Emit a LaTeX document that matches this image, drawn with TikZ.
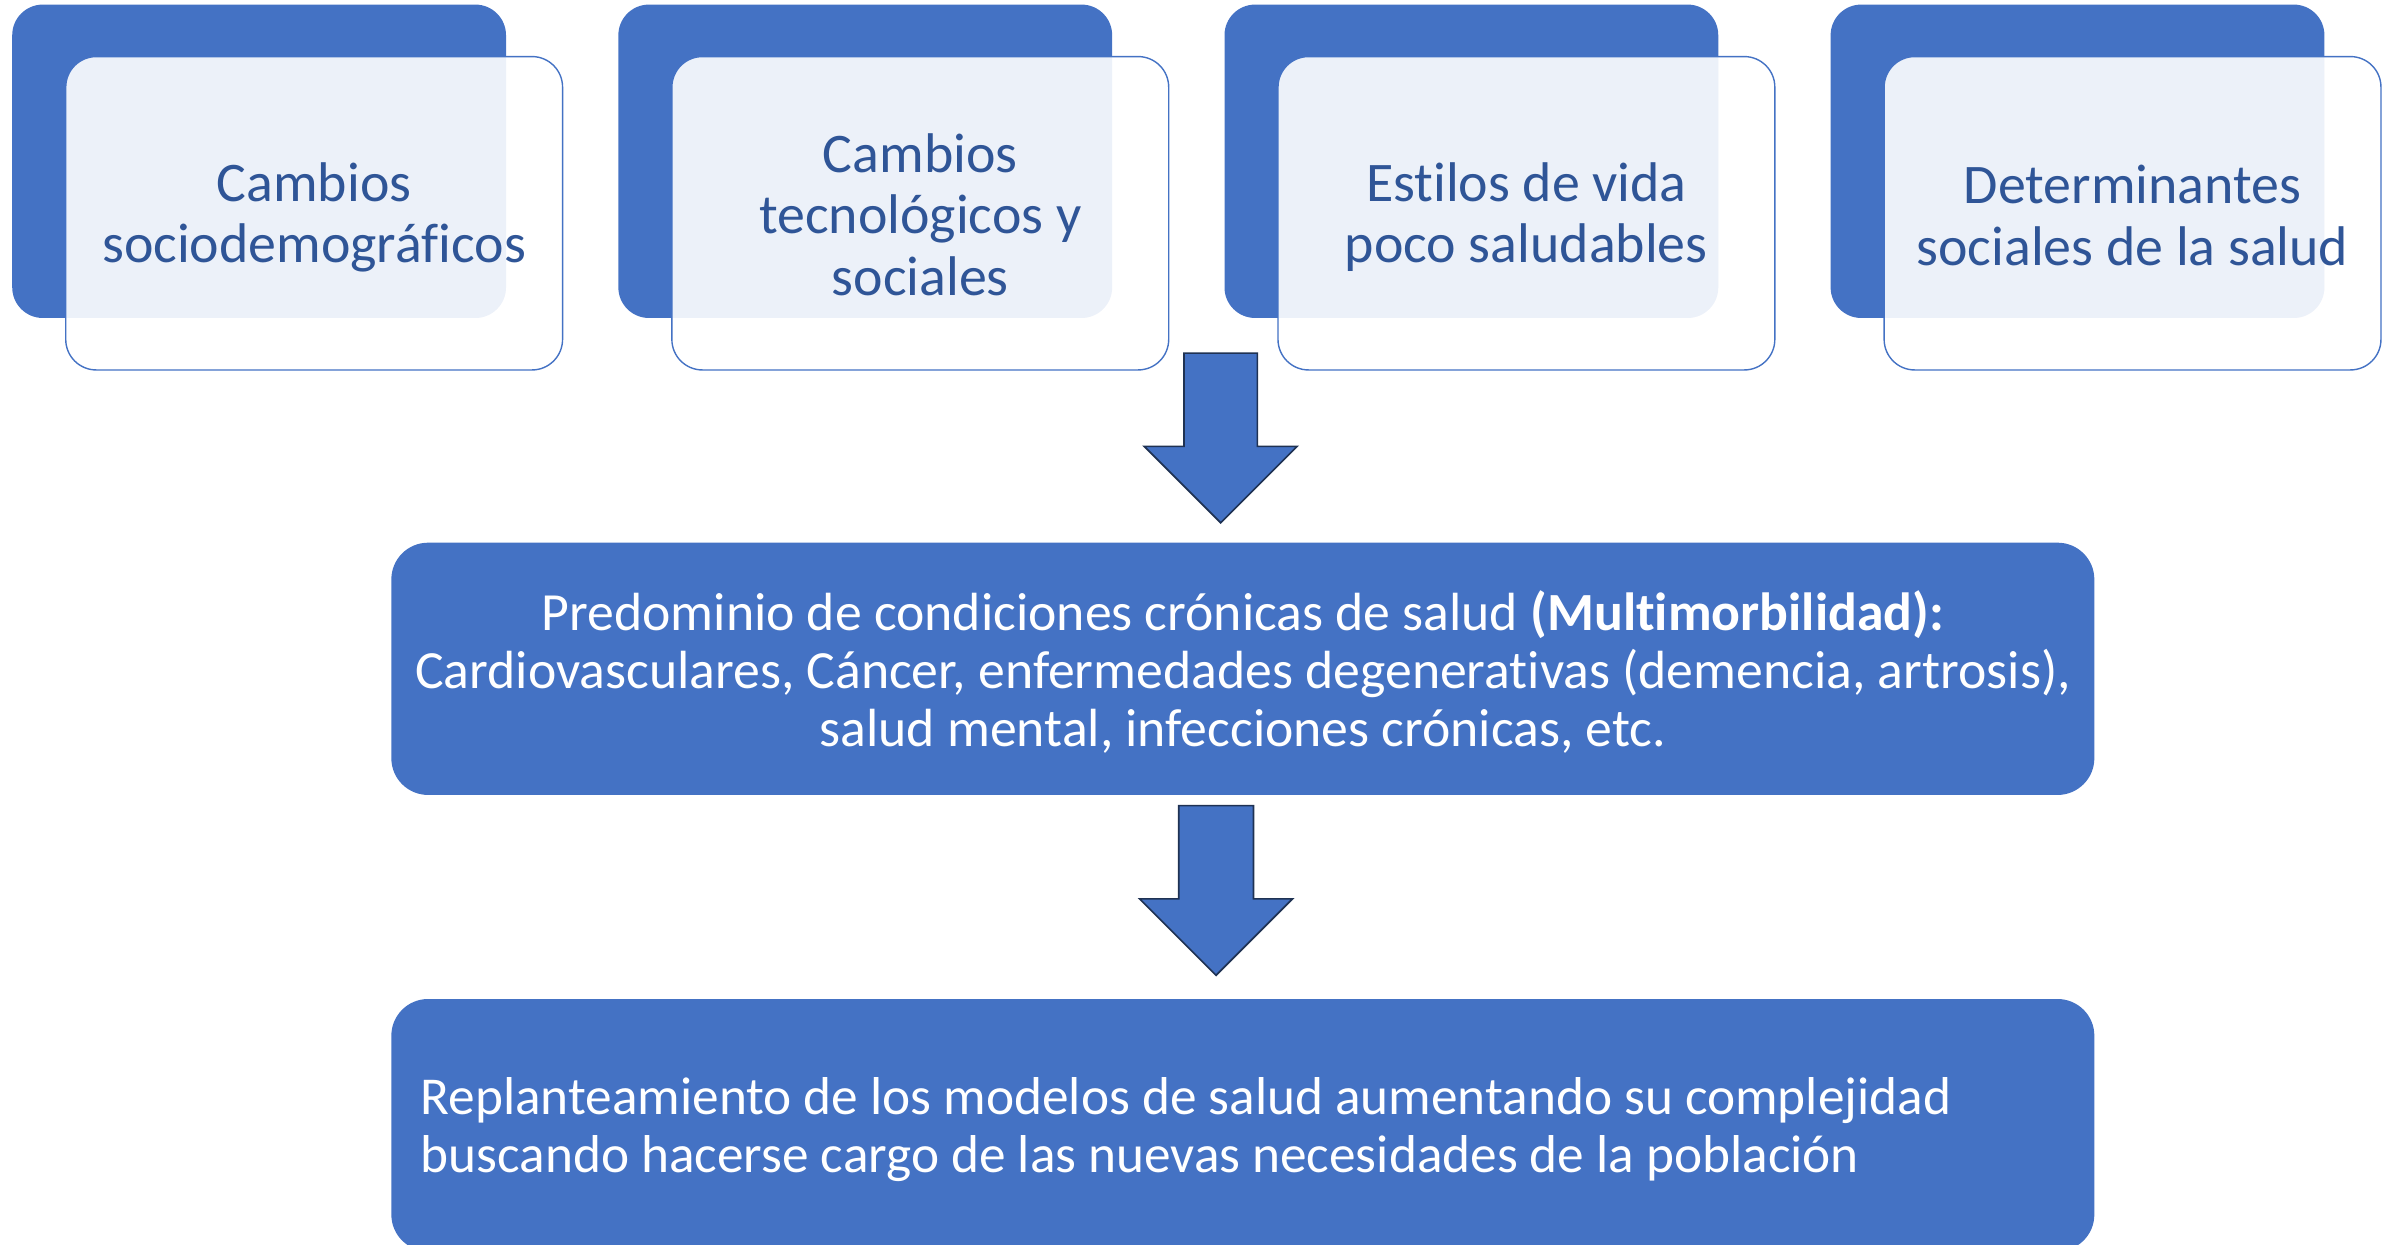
\documentclass[tikz,border=0pt]{standalone}
\usepackage{fontspec}
\setmainfont{Carlito}[Ligatures=NoCommon]
\usetikzlibrary{calc}
\definecolor{mblue}{HTML}{4472C4}
\definecolor{tblue}{HTML}{2F5597}
\definecolor{navy}{HTML}{1F3253}
\begin{document}
\begin{tikzpicture}[x=0.5mm,y=-0.5mm,
  backbox/.style={fill=mblue, rounded corners=10mm, inner sep=0pt, minimum width=161.5mm, minimum height=102.5mm},
  frontbox/.style={fill=white, fill opacity=0.9, text opacity=1, draw=mblue, line width=1.3pt, rounded corners=10mm, inner sep=0pt, minimum width=162.5mm, minimum height=102.5mm},
  toptext/.style={text=tblue, align=center, inner sep=0pt, font=\fontsize{52}{57}\selectfont},
  bigbox/.style={fill=mblue, rounded corners=12mm, inner sep=0pt, minimum width=557mm, minimum height=82.5mm},
  bigtext/.style={text=white, inner sep=0pt},
  blockarrow/.style={fill=mblue, draw=navy, line width=1.6pt, line join=miter}
]
\useasboundingbox (0,0) rectangle (1568,814);
\clip (0,0) rectangle (1568,814);
% top boxes
\node[backbox] (b1) at (169.5,105.5) {};
\node[frontbox] (f1) at (205.5,139.5) {};
\node[toptext] (t1) at ($(f1.center)+(0,2.5)$) {Cambios\\sociodemográficos};
\node[backbox] (b2) at (566,105.5) {};
\node[frontbox] (f2) at (602,139.5) {};
\node[toptext] (t2) at ($(f2.center)+(0,1)$) {Cambios\\tecnológicos y\\sociales};
\node[backbox] (b3) at (962.5,105.5) {};
\node[frontbox] (f3) at (998.5,139.5) {};
\node[toptext] (t3) at ($(f3.center)+(0,2.5)$) {Estilos de vida\\poco saludables};
\node[backbox] (b4) at (1359,105.5) {};
\node[frontbox] (f4) at (1395,139.5) {};
\node[toptext] (t4) at ($(f4.center)+(0,1.5)$) {Determinantes\\sociales de la salud};
% middle box
\node[bigbox] (m) at (813,437.5) {};
\node[bigtext, align=center, font=\fontsize{50}{54}\selectfont] (mt) at ($(m.center)+(0,2)$) {Predominio de condiciones crónicas de salud \textbf{(Multimorbilidad):}\\Cardiovasculares, Cáncer, enfermedades degenerativas (demencia, artrosis),\\salud mental, infecciones crónicas, etc.};
% bottom box
\node[bigbox] (bt) at (813,736) {};
\node[bigtext, align=left, anchor=west, font=\fontsize{49.6}{53.5}\selectfont] (btt) at (275,739) {Replanteamiento de los modelos de salud aumentando su complejidad\\buscando hacerse cargo de las nuevas necesidades de la población};
% arrows
\coordinate (a1top) at (798.5,231);
\coordinate (a1tip) at (798.5,342);
\draw[blockarrow] ($(a1top)+(-24,0)$) -- ++(48,0) -- ++(0,61) -- ++(26,0) -- (a1tip) -- ++(-50,-50) -- ++(26,0) -- cycle;
\coordinate (a2top) at (795.5,527);
\coordinate (a2tip) at (795.5,638);
\draw[blockarrow] ($(a2top)+(-24.5,0)$) -- ++(49,0) -- ++(0,61) -- ++(25.5,0) -- (a2tip) -- ++(-50,-50) -- ++(25.5,0) -- cycle;
\end{tikzpicture}
\end{document}
